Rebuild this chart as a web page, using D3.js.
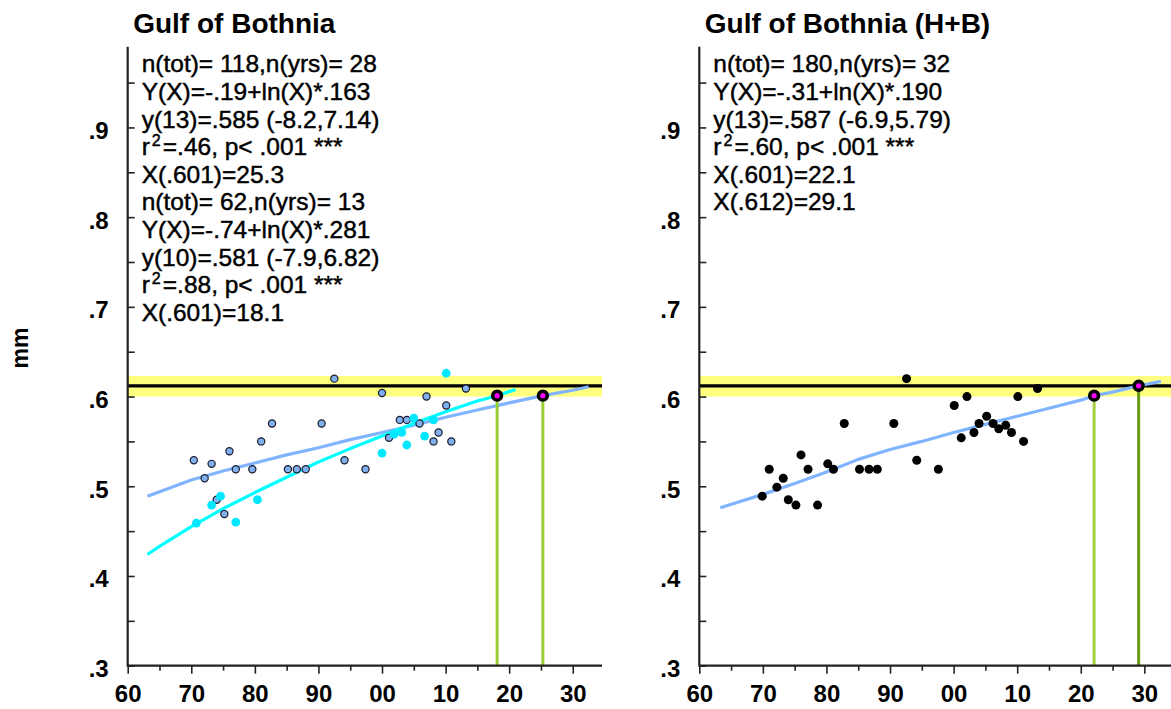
<!DOCTYPE html>
<html><head><meta charset="utf-8">
<script src="https://cdn.jsdelivr.net/npm/d3@7"></script>
<style>
html,body{margin:0;padding:0;background:#fff;}
text{font-family:"Liberation Sans",Arial,Helvetica,sans-serif;fill:#000;}
</style></head>
<body><svg id="chart" width="1171" height="709"></svg>
<script>
// ---------- data ----------
const xTickYears = [1960, 1970, 1980, 1990, 2000, 2010, 2020, 2030];
const xTickLabels = ["60", "70", "80", "90", "00", "10", "20", "30"];
const xMinorYears = [1965, 1975, 1985, 1995, 2005, 2015, 2025];
const yTickValues = [0.3, 0.4, 0.5, 0.6, 0.7, 0.8, 0.9];
const yTickLabels = [".3", ".4", ".5", ".6", ".7", ".8", ".9"];
const yMinorValues = [0.35, 0.45, 0.55, 0.65, 0.75, 0.85, 0.95];

const panelTitles = ["Gulf of Bothnia", "Gulf of Bothnia (H+B)"];
const yAxisLabel = "mm";

const targetBand = [0.600, 0.623];
const targetLine = 0.612;

// left panel: series 1 (blue, outlined)
const leftBlueYears = [1970.4, 1972.1, 1973.2, 1974.0, 1975.2, 1976.0, 1977.0, 1979.6, 1981.0, 1982.7,
  1985.2, 1986.6, 1988.0, 1990.5, 1992.5, 1994.1, 1997.4, 2000.0, 2001.1, 2002.8,
  2003.9, 2005.9, 2007.0, 2008.1, 2008.9, 2010.1, 2010.9, 2013.2];
const leftBlueValues = [0.529, 0.509, 0.525, 0.485, 0.469, 0.539, 0.519, 0.519, 0.550, 0.570,
  0.519, 0.519, 0.519, 0.570, 0.620, 0.529, 0.519, 0.604, 0.554, 0.574,
  0.574, 0.570, 0.600, 0.550, 0.560, 0.590, 0.550, 0.609];
// left panel: series 2 (cyan)
const leftCyanYears = [1970.8, 1973.2, 1974.6, 1977.0, 1980.4, 2000.0, 2001.9, 2003.1, 2003.9, 2005.0,
  2006.7, 2008.1, 2010.1];
const leftCyanValues = [0.459, 0.479, 0.489, 0.460, 0.485, 0.537, 0.558, 0.560, 0.546, 0.576,
  0.556, 0.574, 0.626];
// fitted curves
const leftBlueFitYears = [1963.1, 1970, 1975, 1980, 1985, 1990, 1995, 2000, 2005, 2010, 2015, 2020, 2025.3, 2030, 2032.5];
const leftBlueFitValues = [0.489, 0.507, 0.517, 0.526, 0.535, 0.543, 0.552, 0.560, 0.568, 0.577, 0.585, 0.593, 0.601, 0.607, 0.611];
const leftCyanFitYears = [1963.1, 1965, 1970, 1975, 1980, 1985, 1990, 1995, 2000, 2005, 2010, 2015, 2018.1, 2021.0];
const leftCyanFitValues = [0.424, 0.433, 0.455, 0.475, 0.493, 0.510, 0.527, 0.542, 0.556, 0.570, 0.583, 0.595, 0.601, 0.608];
const leftCrossYears = [2018.1, 2025.3];
const leftCrossValues = [0.601, 0.601];
const leftDropColors = ["#9acd32", "#9acd32"];

// right panel
const rightYears = [1969.9, 1971.0, 1972.2, 1973.2, 1974.0, 1975.2, 1976.0, 1977.1, 1978.6, 1980.2,
  1981.1, 1982.8, 1985.2, 1986.7, 1988.0, 1990.6, 1992.6, 1994.2, 1997.6, 2000.1,
  2001.2, 2002.1, 2003.2, 2004.0, 2005.2, 2006.2, 2007.1, 2008.2, 2009.1, 2010.1,
  2011.0, 2013.2];
const rightValues = [0.489, 0.519, 0.499, 0.509, 0.485, 0.479, 0.535, 0.519, 0.479, 0.525,
  0.519, 0.570, 0.519, 0.519, 0.519, 0.570, 0.620, 0.529, 0.519, 0.590,
  0.554, 0.600, 0.560, 0.570, 0.578, 0.570, 0.564, 0.568, 0.560, 0.600,
  0.550, 0.609];
const rightFitYears = [1963.3, 1970, 1975, 1980, 1985, 1990, 1995, 2000, 2005, 2010, 2015, 2020, 2022.1, 2025, 2029.1, 2032.6];
const rightFitValues = [0.476, 0.491, 0.503, 0.516, 0.530, 0.541, 0.550, 0.560, 0.569, 0.578, 0.587, 0.596, 0.601, 0.605, 0.612, 0.617];
const rightCrossYears = [2022.1, 2029.1];
const rightCrossValues = [0.601, 0.612];
const rightDropColors = ["#a4d044", "#6b9b14"];

const leftTextLines = [
  "n(tot)= 118,n(yrs)= 28",
  "Y(X)=-.19+ln(X)*.163",
  "y(13)=.585 (-8.2,7.14)",
  "r²=.46, p< .001 ***",
  "X(.601)=25.3",
  "n(tot)= 62,n(yrs)= 13",
  "Y(X)=-.74+ln(X)*.281",
  "y(10)=.581 (-7.9,6.82)",
  "r²=.88, p< .001 ***",
  "X(.601)=18.1"
];
const rightTextLines = [
  "n(tot)= 180,n(yrs)= 32",
  "Y(X)=-.31+ln(X)*.190",
  "y(13)=.587 (-6.9,5.79)",
  "r²=.60, p< .001 ***",
  "X(.601)=22.1",
  "X(.612)=29.1"
];

// ---------- drawing ----------
const svg = d3.select("#chart");
const W = 1171, H = 709;
const yTop = 46.7, yBottom = 665.7;
const y = d3.scaleLinear().domain([0.3, 0.99]).range([yBottom, yTop]);
const panelWidth = 474.3;
const yearSpan = [1960, 2034.6];

function drawPanel(opts) {
  const x0 = opts.x0;
  const x = d3.scaleLinear().domain(yearSpan).range([x0, x0 + panelWidth]);
  const g = svg.append("g");

  // target band + line
  g.append("rect")
    .attr("x", x(yearSpan[0])).attr("width", x(yearSpan[1]) - x(yearSpan[0]))
    .attr("y", y(targetBand[1])).attr("height", y(targetBand[0]) - y(targetBand[1]))
    .attr("fill", "#ffff80");
  g.append("line")
    .attr("x1", x(yearSpan[0])).attr("x2", x(yearSpan[1]))
    .attr("y1", y(targetLine)).attr("y2", y(targetLine))
    .attr("stroke", "#000").attr("stroke-width", 3.2);

  // fitted curves
  const line = d3.line().x(d => x(d[0])).y(d => y(d[1]));
  opts.fits.forEach(f => {
    g.append("path")
      .datum(d3.zip(f.years, f.values))
      .attr("d", line)
      .attr("fill", "none")
      .attr("stroke", f.color)
      .attr("stroke-width", 3.2)
      .attr("stroke-linejoin", "round");
  });

  // points
  opts.points.forEach(p => {
    g.append("g").selectAll("circle")
      .data(d3.zip(p.years, p.values))
      .join("circle")
      .attr("cx", d => x(d[0])).attr("cy", d => y(d[1]))
      .attr("r", p.r)
      .attr("fill", p.fill)
      .attr("stroke", p.stroke || "none")
      .attr("stroke-width", p.strokeWidth || 0);
  });

  // drop lines
  const cross = d3.zip(opts.crossYears, opts.crossValues);
  g.append("g").selectAll("line")
    .data(cross)
    .join("line")
    .attr("x1", d => x(d[0])).attr("x2", d => x(d[0]))
    .attr("y1", d => y(d[1])).attr("y2", yBottom)
    .attr("stroke", (d, i) => opts.dropColors[i])
    .attr("stroke-width", 3);
  g.append("g").selectAll("circle")
    .data(cross)
    .join("circle")
    .attr("cx", d => x(d[0])).attr("cy", d => y(d[1]))
    .attr("r", 4.4)
    .attr("fill", "#ff00ff")
    .attr("stroke", "#000")
    .attr("stroke-width", 3.6);

  // axes
  const axisColor = "#222";
  const xAxis = d3.axisBottom(x)
    .tickValues(xTickYears)
    .tickSize(8)
    .tickPadding(3)
    .tickFormat((d, i) => xTickLabels[i]);
  const xg = g.append("g").attr("transform", `translate(0,${yBottom})`).call(xAxis);
  xg.select(".domain").remove();
  xg.selectAll(".tick line").attr("stroke", axisColor).attr("stroke-width", 1.6);
  xg.selectAll(".tick text")
    .attr("font-size", 24).attr("font-weight", "bold")
    .attr("font-family", '"Liberation Sans", Arial, sans-serif')
    .attr("fill", "#000").attr("dy", null).attr("y", 36);
  const xMinor = d3.axisBottom(x).tickValues(xMinorYears).tickSize(5).tickFormat("");
  const xmg = g.append("g").attr("transform", `translate(0,${yBottom})`).call(xMinor);
  xmg.select(".domain").remove();
  xmg.selectAll(".tick line").attr("stroke", axisColor).attr("stroke-width", 1.6);
  g.append("line")
    .attr("x1", x(yearSpan[0])).attr("x2", x(yearSpan[1]))
    .attr("y1", yBottom).attr("y2", yBottom)
    .attr("stroke", axisColor).attr("stroke-width", 2.2);

  // y axis (ticks inward)
  const yAxis = d3.axisLeft(y)
    .tickValues(yTickValues)
    .tickSize(-7)
    .tickPadding(19 + 7)
    .tickFormat((d, i) => yTickLabels[i]);
  const yg = g.append("g").attr("transform", `translate(${x0},0)`).call(yAxis);
  yg.select(".domain").remove();
  yg.selectAll(".tick line").attr("stroke", axisColor).attr("stroke-width", 1.6);
  yg.selectAll(".tick text")
    .attr("font-size", 24).attr("font-weight", "bold")
    .attr("font-family", '"Liberation Sans", Arial, sans-serif')
    .attr("fill", "#000").attr("dy", null).attr("y", 11).attr("x", -19);
  const yMinor = d3.axisLeft(y).tickValues(yMinorValues).tickSize(-7).tickFormat("");
  const ymg = g.append("g").attr("transform", `translate(${x0},0)`).call(yMinor);
  ymg.select(".domain").remove();
  ymg.selectAll(".tick line").attr("stroke", axisColor).attr("stroke-width", 1.6);
  g.append("line")
    .attr("x1", x0).attr("x2", x0)
    .attr("y1", yTop).attr("y2", yBottom + 1)
    .attr("stroke", axisColor).attr("stroke-width", 2.2);

  // title
  g.append("text")
    .attr("x", x0 + 5.5).attr("y", 33)
    .attr("font-size", 28).attr("font-weight", "bold")
    .text(opts.title);

  // statistics text
  opts.textLines.forEach((s, i) => {
    const t = g.append("text")
      .attr("x", x0 + 14).attr("y", 72.3 + 27.6 * i)
      .attr("font-size", 24.5)
      .attr("stroke", "#000").attr("stroke-width", 0.45);
    if (s.includes("²")) {
      const parts = s.split("²");
      t.append("tspan").text(parts[0]);
      t.append("tspan").attr("font-size", 16).attr("dy", -9).attr("dx", 2).text("2");
      t.append("tspan").attr("dy", 9).attr("dx", 2).text(parts[1]);
    } else {
      t.text(s);
    }
  });
}

drawPanel({
  x0: 127.7,
  title: panelTitles[0],
  fits: [
    {years: leftBlueFitYears, values: leftBlueFitValues, color: "#80b4ff"},
    {years: leftCyanFitYears, values: leftCyanFitValues, color: "#00ffff"}
  ],
  points: [
    {years: leftBlueYears, values: leftBlueValues, r: 3.6, fill: "#80b0ee", stroke: "#1b1b2b", strokeWidth: 1.2},
    {years: leftCyanYears, values: leftCyanValues, r: 4.4, fill: "#00e8ff"}
  ],
  crossYears: leftCrossYears, crossValues: leftCrossValues, dropColors: leftDropColors,
  textLines: leftTextLines
});

drawPanel({
  x0: 699.3,
  title: panelTitles[1],
  fits: [
    {years: rightFitYears, values: rightFitValues, color: "#80b4ff"}
  ],
  points: [
    {years: rightYears, values: rightValues, r: 4.5, fill: "#000"}
  ],
  crossYears: rightCrossYears, crossValues: rightCrossValues, dropColors: rightDropColors,
  textLines: rightTextLines
});

// y axis label
svg.append("text")
  .attr("transform", "translate(28,348) rotate(-90)")
  .attr("text-anchor", "middle")
  .attr("font-size", 23).attr("font-weight", "bold")
  .text(yAxisLabel);
</script>
</body></html>
